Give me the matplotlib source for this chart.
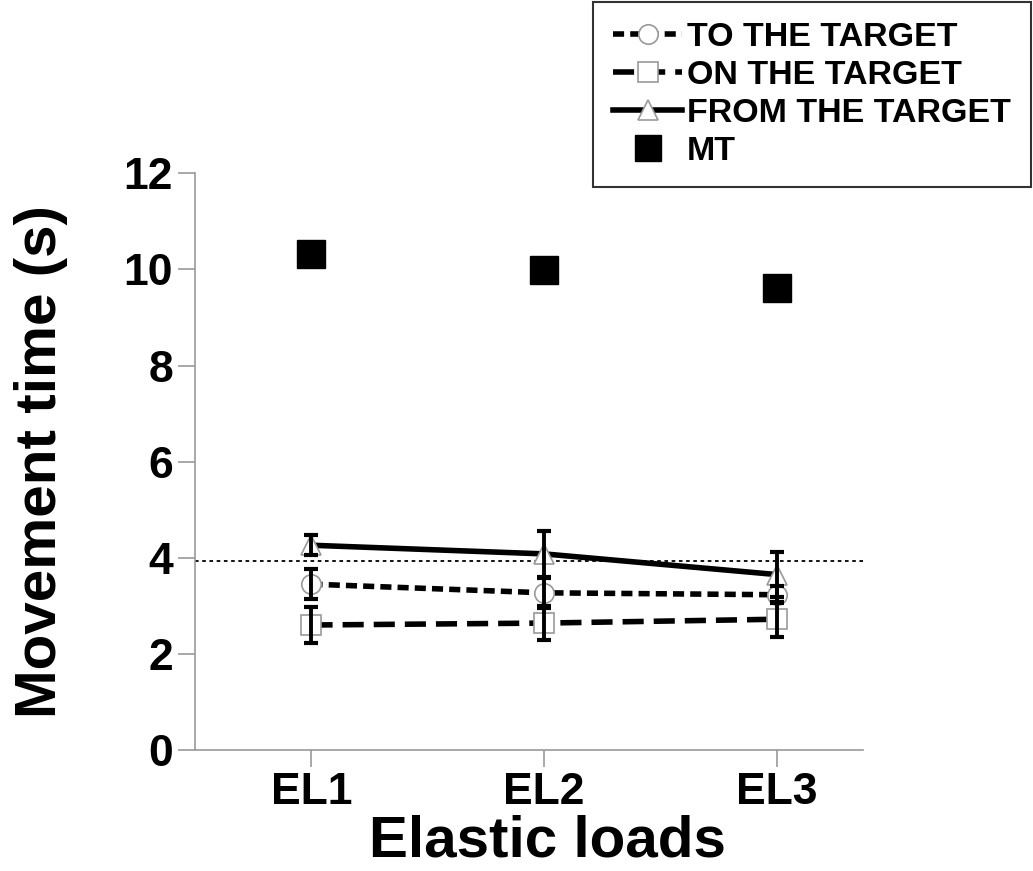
import matplotlib.pyplot as plt
from matplotlib.lines import Line2D

plt.rcParams['font.family'] = ['Liberation Sans', 'DejaVu Sans']
plt.rcParams['font.weight'] = 'bold'

# data
loads = ['EL1', 'EL2', 'EL3']
x = [1, 2, 3]
to_target = [3.45, 3.27, 3.23]
to_err = [0.31, 0.31, 0.18]
on_target = [2.60, 2.64, 2.72]
on_err = [0.37, 0.36, 0.36]
from_target = [4.26, 4.08, 3.65]
from_err = [0.21, 0.48, 0.46]
mt = [10.32, 9.98, 9.62]
ref_line = 3.93

TO_LS = (0, (2.0, 1.1))
ON_LS = (0, (3.8, 1.8))

fig = plt.figure(figsize=(10.33, 8.71), dpi=100)
ax = fig.add_axes([0.189, 0.139, 0.646, 0.662])

ax.axhline(ref_line, color='black', lw=1.3, ls=(0, (2, 2)), zorder=1)

# lines
ax.plot(x, to_target, color='black', lw=4, ls=TO_LS, zorder=2)
ax.plot(x, on_target, color='black', lw=4, ls=ON_LS, zorder=2)
ax.plot(x, from_target, color='black', lw=4, ls='-', zorder=2)

# open markers
ax.plot(x, to_target, 'o', ms=14, mfc='white', mec='#999999', mew=1.2, zorder=3)
ax.plot(x, on_target, 's', ms=14, mfc='white', mec='#999999', mew=1.2, zorder=3)
ax.plot(x, from_target, '^', ms=15, mfc='white', mec='#999999', mew=1.2, zorder=3)

# error bars on top
for y, e in [(to_target, to_err), (on_target, on_err), (from_target, from_err)]:
    ax.errorbar(x, y, yerr=e, fmt='none', ecolor='black', elinewidth=2.8,
                capsize=5, capthick=3, zorder=4)

ax.plot(x, mt, 's', ms=19.5, color='black', zorder=5)

ax.set_xlim(0.5, 3.37)
ax.set_ylim(0, 12)
ax.set_xticks(x)
ax.set_xticklabels(loads)
ax.set_yticks([0, 2, 4, 6, 8, 10, 12])

for s in ['top', 'right']:
    ax.spines[s].set_visible(False)
for s in ['left', 'bottom']:
    ax.spines[s].set_color('#999999')
    ax.spines[s].set_linewidth(1.2)
ax.tick_params(axis='both', colors='#999999', length=12, width=1.2,
               labelcolor='black', labelsize=32, pad=4)
for lbl in ax.get_xticklabels() + ax.get_yticklabels():
    lbl.set_fontweight('bold')

ax.set_xlabel('Elastic loads', fontsize=42, fontweight='bold', labelpad=0)
ax.xaxis.set_label_coords(0.528, -0.112)
ax.set_ylabel('Movement time (s)', fontsize=42, fontweight='bold', labelpad=40)

handles = [
    Line2D([], [], color='black', lw=4, ls=TO_LS, marker='o', ms=14,
           mfc='white', mec='#999999', mew=1.2),
    Line2D([], [], color='black', lw=4, ls=ON_LS, marker='s', ms=14,
           mfc='white', mec='#999999', mew=1.2),
    Line2D([], [], color='black', lw=4, ls='-', marker='^', ms=15,
           mfc='white', mec='#999999', mew=1.2),
    Line2D([], [], color='black', ls='none', marker='s', ms=19),
]
labels = ['TO THE TARGET', 'ON THE TARGET', 'FROM THE TARGET', 'MT']
leg = fig.legend(handles, labels, loc='upper right', bbox_to_anchor=(0.998, 0.998),
                 prop={'size': 24.5, 'weight': 'bold'}, frameon=True, fancybox=False,
                 edgecolor='black', handlelength=2.0, handletextpad=0.15,
                 labelspacing=0.2, borderpad=0.6, borderaxespad=0)
leg.get_frame().set_linewidth(1.5)

fig.savefig('out.png', dpi=100, facecolor='white')
